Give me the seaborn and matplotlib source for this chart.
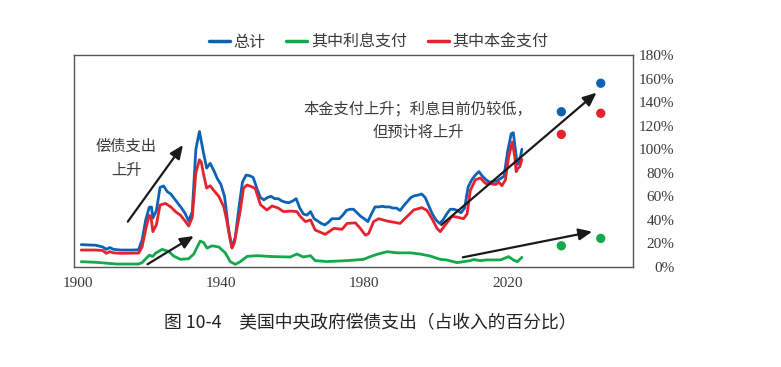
import matplotlib.pyplot as plt
import seaborn as sns

# total debt service (% of revenue)
total_years = [1901, 1903, 1905, 1907, 1908, 1909, 1910, 1912, 1915, 1917, 1918, 1919, 1920, 1920.6,
               1921, 1922, 1923, 1924, 1925, 1926, 1927, 1928, 1929, 1930, 1931, 1932, 1933, 1934,
               1935, 1936, 1937, 1938, 1939, 1940, 1941, 1942, 1943, 1944, 1945, 1946, 1947, 1948,
               1949, 1950, 1951, 1952, 1953, 1954, 1955, 1956, 1957, 1958, 1959, 1960, 1961, 1962,
               1963, 1964, 1965, 1966, 1967, 1968, 1969, 1970, 1971, 1972, 1973, 1974, 1975, 1976,
               1977, 1978, 1979, 1980, 1981, 1982, 1983, 1984, 1985, 1986, 1987, 1988, 1989, 1990,
               1991, 1992, 1993, 1994, 1995, 1996, 1997, 1998, 1999, 2000, 2001, 2002, 2003, 2004,
               2005, 2006, 2007, 2008, 2009, 2010, 2011, 2012, 2013, 2014, 2015, 2016, 2017, 2018,
               2019, 2020, 2021, 2021.6, 2022.2, 2022.7, 2023.3, 2024]
total_vals = [19, 18.7, 18.5, 17, 15, 16.5, 15, 14.4, 14.4, 14.6, 23, 40, 50.7, 51,
              41.5, 48, 67.6, 68.8, 64, 62, 58, 54, 50, 45.5, 39, 47, 100, 115,
              99, 84, 88, 82, 75, 70, 60, 35, 17, 25, 50, 72, 78, 77.5,
              76, 67, 59, 57, 59, 60, 58, 58, 56, 55, 54.6, 56, 58, 50,
              45, 44, 47, 41, 39, 37, 35.7, 38, 41, 41, 41, 44, 48, 49,
              49, 46, 43, 41, 38.5, 45, 51, 51, 51.5, 51, 51, 50, 50, 48,
              52, 55.5, 59, 60.5, 61, 62, 59, 52, 45, 40, 37, 40, 45, 49,
              49, 48, 46, 50, 68, 74, 78, 81, 77, 74, 72, 72.5, 73, 75,
              77, 98, 113, 114, 99, 87, 89, 100]

# interest payments
interest_years = [1901, 1905, 1907, 1911, 1917, 1918, 1920, 1921, 1921.7, 1923.6, 1925.5, 1926.8,
                  1928.7, 1931, 1932.4, 1934.2, 1935.2, 1936.1, 1937.5, 1939.4, 1941.2, 1942.6,
                  1944, 1945.4, 1947.3, 1950, 1954.7, 1959.4, 1961.2, 1963, 1965, 1966.3, 1969.6,
                  1975.2, 1979.8, 1981.7, 1983.6, 1986.4, 1989.2, 1992.8, 1995.6, 1998.4, 2001.2,
                  2003, 2005.9, 2009.6, 2010.5, 2012.4, 2014.2, 2018, 2020.3, 2021.6, 2022.7, 2024]
interest_vals = [4.5, 4, 3.5, 2.5, 2.5, 3.7, 10, 9, 11.6, 15, 13, 9.3,
                 6.5, 7, 11, 22, 20.7, 16, 18, 17, 12, 4.5,
                 2.3, 4.5, 9, 9.6, 8.8, 8.5, 11, 8.5, 9.6, 5.4, 4.6,
                 5.4, 6.5, 8.8, 10.8, 13, 12, 12, 11, 9.3, 6.5,
                 6, 3.7, 5.4, 6.3, 5.4, 6, 6, 8.8, 6, 4.5, 8.2]

# principal payments
principal_years = [1901, 1905, 1907, 1908, 1909, 1910, 1912, 1917, 1918, 1919, 1920, 1920.5, 1921,
                   1922, 1923, 1924.5, 1926, 1927.3, 1928.7, 1930, 1931, 1932, 1933, 1934, 1934.5,
                   1935.2, 1936, 1937, 1938, 1939.4, 1940.8, 1941.7, 1942.4, 1943.1, 1943.7, 1945.4,
                   1946.3, 1947.3, 1948.7, 1949.6, 1951, 1952.8, 1954.3, 1956, 1957.5, 1959.4, 1961.2,
                   1962.2, 1963.6, 1965, 1966.3, 1969.1, 1971.5, 1973.8, 1975.2, 1977.5, 1978.9,
                   1980.3, 1981.2, 1982.6, 1984, 1986.4, 1990, 1992, 1993.8, 1996.1, 1997.5, 1998.9,
                   2000.3, 2001.2, 2002.6, 2004.5, 2005.7, 2007.7, 2008.7, 2009.6, 2011, 2012.4,
                   2013.8, 2015.3, 2016.7, 2017.6, 2018.4, 2019.4, 2020.3, 2021.3, 2022, 2022.4,
                   2022.9, 2023.4, 2024]
principal_vals = [14.4, 14.4, 14, 11.6, 13, 12, 11.6, 11.8, 17, 32, 44, 42, 30,
                  36, 52.6, 54, 51, 47, 44, 39, 34.8, 42, 80, 91, 89,
                  78, 67, 69, 65, 60, 51, 38.5, 25.7, 16, 20, 48,
                  67, 69.6, 68, 66.5, 53, 48.4, 51.8, 50, 47, 47.5, 47,
                  42.7, 38.5, 40, 31.4, 27.7, 32.8, 32, 37, 37.5, 32.8,
                  27, 28.3, 38.5, 41, 39, 37, 43, 48.4, 50.4, 48, 41,
                  32.8, 30, 35.7, 43, 42.5, 41, 45, 65, 74, 75.6,
                  71, 70.6, 70, 72, 69, 74, 93.6, 106, 93.6, 81,
                  84, 85, 91.4]

# projections (dots)
proj_years = [2035, 2046]
proj_total = [131.8, 156]
proj_principal = [112.6, 130.5]
proj_interest = [18, 24.3]

y_ticks = [0, 20, 40, 60, 80, 100, 120, 140, 160, 180]
x_ticks = [1900, 1940, 1980, 2020]

BLUE = "#0c63b6"
GREEN = "#13a84a"
RED = "#e8222d"
TEXT = "#3a3a3a"

sns.set_style("white")
plt.rcParams["font.family"] = ["Noto Sans CJK SC", "DejaVu Sans"]

fig = plt.figure(figsize=(7.81, 3.67), dpi=100)
ax = fig.add_axes([0.0948, 0.2725, 0.7157, 0.5777])

sns.lineplot(x=total_years, y=total_vals, color=BLUE, lw=2, ax=ax, label="总计")
sns.lineplot(x=interest_years, y=interest_vals, color=GREEN, lw=2, ax=ax, label="其中利息支付")
sns.lineplot(x=principal_years, y=principal_vals, color=RED, lw=2, ax=ax, label="其中本金支付")

sns.scatterplot(x=proj_years, y=proj_total, color=BLUE, s=45, edgecolor="none", ax=ax)
sns.scatterplot(x=proj_years, y=proj_principal, color=RED, s=45, edgecolor="none", ax=ax)
sns.scatterplot(x=proj_years, y=proj_interest, color=GREEN, s=45, edgecolor="none", ax=ax)

ax.set_xlim(1899, 2055)
ax.set_ylim(0, 180)
ax.set_xticks(x_ticks)
ax.set_yticks(y_ticks)
ax.set_yticklabels([f"{v}%" for v in y_ticks])
ax.yaxis.tick_right()
ax.tick_params(axis="y", length=0, pad=30)
ax.tick_params(axis="x", length=0, pad=7)
for lbl in ax.get_yticklabels():
    lbl.set_ha("right")
for lbl in ax.get_xticklabels() + ax.get_yticklabels():
    lbl.set_family("Liberation Serif")
    lbl.set_fontsize(11)
    lbl.set_color(TEXT)
for sp in ax.spines.values():
    sp.set_color("#555555")
    sp.set_linewidth(1)
ax.set_xlabel("")
ax.set_ylabel("")

leg = ax.legend(loc="lower center", bbox_to_anchor=(0.545, 0.99), ncol=3, frameon=False,
                handlelength=1.3, handletextpad=0.25, columnspacing=1.3, fontsize=11.5,
                labelcolor=TEXT, borderaxespad=0)
for h in leg.get_lines():
    h.set_linewidth(2.5)

arrow = dict(arrowstyle="-|>,head_length=0.8,head_width=0.35", color="#1a1a1a",
             lw=1.6, shrinkA=0, shrinkB=0)
ax.annotate("", xy=(1929.4, 103.5), xytext=(1914, 38.5), arrowprops=arrow)
ax.annotate("", xy=(1932.4, 26.3), xytext=(1919.5, 2.3), arrowprops=arrow)
ax.annotate("", xy=(2044.8, 148), xytext=(2001.5, 35.7), arrowprops=arrow)
ax.annotate("", xy=(2043.6, 30), xytext=(2007.5, 8.2), arrowprops=arrow)

ax.text(1913.6, 92.5, "偿债支出\n上升", ha="center", va="center", fontsize=11,
        color=TEXT, linespacing=1.55)
ax.text(1995, 124, "本金支付上升；利息目前仍较低，\n但预计将上升", ha="center", va="center",
        fontsize=11, color=TEXT, linespacing=1.45)

fig.text(0.474, 0.12, "图 10-4\u3000美国中央政府偿债支出（占收入的百分比）", ha="center",
         va="center", fontsize=12.8, color="#222222", fontweight="medium")

fig.savefig("out.png", dpi=100)
plt.close(fig)
